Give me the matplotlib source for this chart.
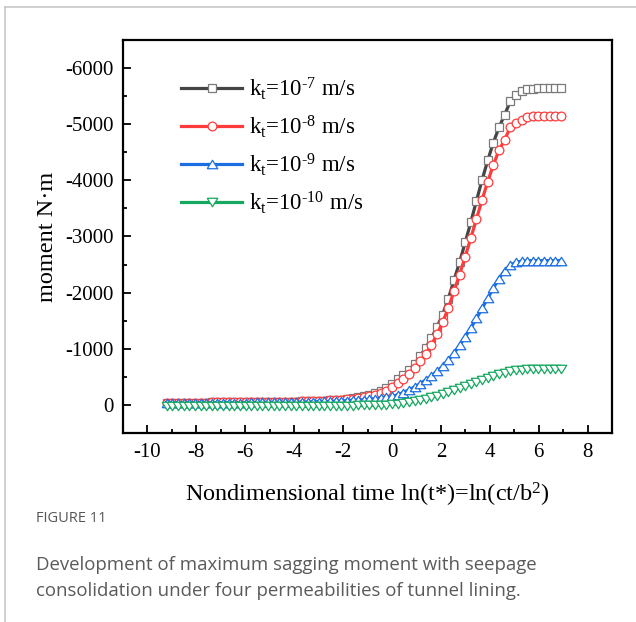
import numpy as np
import matplotlib
matplotlib.use('Agg')
import matplotlib.pyplot as plt
from matplotlib.lines import Line2D

plt.rcParams['font.family'] = ['Liberation Serif', 'DejaVu Serif']
plt.rcParams['mathtext.fontset'] = 'custom'
plt.rcParams['mathtext.rm'] = 'Liberation Serif'
plt.rcParams['mathtext.it'] = 'Liberation Serif'
plt.rcParams['axes.unicode_minus'] = False

# ln(t*), ten samples per decade, t* = 1e-4 .. 1e3
log_t = np.log(10.0 ** (np.arange(-40, 31) / 10))

m_k7 = [-40, -40, -40, -41, -41, -41, -42, -42, -43, -43,
        -44, -45, -45, -46, -47, -48, -49, -50, -51, -53,
        -54, -56, -58, -60, -62, -65, -68, -71, -75, -80,
        -86, -96, -108, -122, -138, -158, -182, -212, -250, -300,
        -380, -455, -530, -620, -730, -868, -1019, -1190, -1390, -1610,
        -1892, -2219, -2542, -2894, -3256, -3636, -4007, -4355, -4672, -4942,
        -5167, -5405, -5525, -5590, -5620, -5632, -5638, -5640, -5640, -5640, -5640]
m_k8 = [-40, -40, -40, -41, -41, -41, -42, -42, -43, -43,
        -44, -45, -45, -46, -47, -48, -49, -50, -51, -53,
        -54, -56, -58, -60, -62, -65, -68, -71, -75, -80,
        -86, -94, -104, -114, -126, -140, -158, -180, -210, -255,
        -320, -390, -456, -545, -650, -775, -906, -1070, -1255, -1477,
        -1720, -2024, -2320, -2640, -2972, -3314, -3652, -3977, -4273, -4539,
        -4717, -4948, -5028, -5080, -5120, -5140, -5148, -5150, -5150, -5150, -5150]
m_k9 = [-40, -40, -40, -40, -40, -40, -40, -40, -40, -40,
        -40, -41, -41, -42, -42, -43, -43, -44, -45, -46,
        -47, -48, -49, -50, -52, -54, -56, -58, -61, -64,
        -68, -72, -76, -81, -87, -94, -102, -111, -122, -135,
        -150, -180, -220, -268, -320, -380, -445, -520, -600, -690,
        -800, -920, -1060, -1210, -1370, -1540, -1720, -1900, -2080, -2250,
        -2390, -2490, -2540, -2560, -2568, -2570, -2570, -2570, -2570, -2570, -2570]
m_k10 = [15, 15, 15, 15, 15, 15, 15, 15, 15, 15,
         15, 15, 15, 15, 15, 15, 15, 15, 15, 15,
         15, 15, 15, 15, 15, 15, 14, 14, 14, 13,
         13, 12, 12, 11, 10, 9, 7, 5, 2, -2,
         -10, -20, -32, -47, -65, -86, -110, -137, -166, -197,
         -230, -265, -300, -337, -375, -413, -450, -487, -520, -550,
         -577, -600, -617, -628, -635, -638, -640, -640, -640, -640, -640]

labels = [r'k$_\mathregular{t}$=10$^\mathregular{\text{-7}}$ m/s',
          r'k$_\mathregular{t}$=10$^\mathregular{\text{-8}}$ m/s',
          r'k$_\mathregular{t}$=10$^\mathregular{\text{-9}}$ m/s',
          r'k$_\mathregular{t}$=10$^\mathregular{\text{-10}}$ m/s']
x_ticks = [-10, -8, -6, -4, -2, 0, 2, 4, 6, 8]
y_ticks = [0, -1000, -2000, -3000, -4000, -5000, -6000]

# flatter triangles than matplotlib's default ones
tri_up = [(-1, -0.8), (1, -0.8), (0, 0.8), (-1, -0.8)]
tri_down = [(-1, 0.8), (1, 0.8), (0, -0.8), (-1, 0.8)]

fig = plt.figure(figsize=(6.36, 6.22), dpi=100)
ax = fig.add_axes([0.1934, 0.3039, 0.769, 0.6318])

styles = [
    dict(color='#454545', marker='s', ms=5.2, mec='#7a7a7a'),
    dict(color='#ff3b3b', marker='o', ms=6.3, mec='#ff3b3b'),
    dict(color='#1c6fe3', marker=tri_up, ms=7.6, mec='#1c6fe3'),
    dict(color='#17a860', marker=tri_down, ms=7.6, mec='#17a860'),
]
for vals, lab, st in zip([m_k7, m_k8, m_k9, m_k10], labels, styles):
    ax.plot(log_t, vals, color=st['color'], lw=2.3, marker=st['marker'],
            ms=st['ms'], mfc='white', mec=st['mec'], mew=0.9, label=lab)

ax.set_xlim(-11, 9)
ax.set_ylim(500, -6500)
ax.set_xticks(x_ticks)
ax.set_xticks(np.arange(-11, 10, 2), minor=True)
ax.set_yticks(y_ticks)
ax.set_yticks(np.arange(-6500, 501, 1000), minor=True)
ax.tick_params(which='both', direction='in', width=1.3, top=False, right=False)
ax.tick_params(which='major', length=5.5, labelsize=15, pad=7)
ax.tick_params(which='minor', length=3)
for sp in ax.spines.values():
    sp.set_linewidth(1.6)

ax.set_xlabel(r'Nondimensional time ln(t*)=ln(ct/b$^\mathregular{2}$)', fontsize=17.5, labelpad=14)
ax.set_ylabel('moment N·m', fontsize=17.5, labelpad=5)

ax.legend(loc='upper left', bbox_to_anchor=(0.085, 0.95), frameon=False, fontsize=16.5,
          handlelength=2.7, handletextpad=0.3, labelspacing=0.5, borderaxespad=0.3)

# page frame and caption
fig.add_artist(Line2D([5 / 636, 1], [1 - 7 / 622, 1 - 7 / 622], color='#c8c8c8', lw=1.2))
fig.add_artist(Line2D([5 / 636, 5 / 636], [0, 1 - 7 / 622], color='#c8c8c8', lw=1.2))
cap_font = ['Open Sans', 'DejaVu Sans']
fig.text(36 / 636, 1 - 522 / 622, 'FIGURE 11', family=cap_font, fontsize=10.5,
         color='#555555', va='baseline')
fig.text(36 / 636, 1 - 570 / 622, 'Development of maximum sagging moment with seepage',
         family=cap_font, fontsize=13.4, color='#5a5a5a', va='baseline')
fig.text(36 / 636, 1 - 596 / 622, 'consolidation under four permeabilities of tunnel lining.',
         family=cap_font, fontsize=13.4, color='#5a5a5a', va='baseline')

fig.savefig('out.png', dpi=100)
